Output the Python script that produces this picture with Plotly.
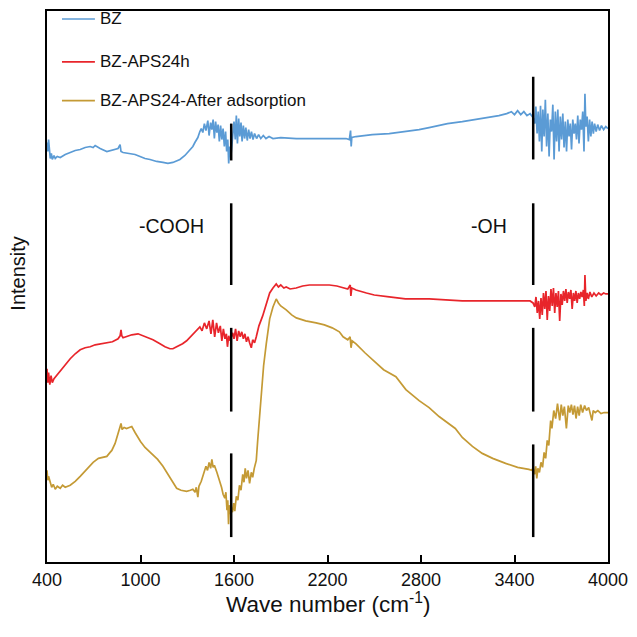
import plotly.graph_objects as go

# ---- data (wavenumber cm^-1, intensity a.u.) ----
bz_x = [400, 405, 410, 421, 428, 434, 445, 453, 466, 485, 517, 549, 581, 613, 645, 677, 696, 709, 741, 784,
        805, 837, 856, 869, 875, 888, 933, 965, 997, 1029, 1061, 1104, 1144, 1176, 1208, 1253, 1285, 1317, 1336, 1349,
        1368, 1381, 1390, 1400, 1410, 1420, 1432, 1440, 1450, 1458, 1466, 1474, 1482, 1490, 1498, 1506, 1514, 1522, 1530, 1538,
        1546, 1553, 1560, 1566, 1573, 1580, 1590, 1600, 1608, 1615, 1622, 1630, 1637, 1645, 1652, 1660, 1668, 1676, 1685, 1694,
        1703, 1712, 1722, 1732, 1745, 1758, 1772, 1788, 1805, 1825, 1850, 1900, 2000, 2100, 2200, 2276, 2319, 2340, 2348, 2352,
        2356, 2383, 2487, 2596, 2700, 2788, 2852, 2916, 2970, 3065, 3150, 3236, 3300, 3350, 3380, 3400, 3420, 3440, 3460, 3480,
        3500, 3519, 3530, 3537, 3545, 3552, 3560, 3567, 3575, 3582, 3590, 3598, 3606, 3614, 3622, 3630, 3638, 3646, 3654, 3662,
        3670, 3678, 3686, 3694, 3702, 3710, 3718, 3726, 3734, 3742, 3750, 3758, 3766, 3774, 3782, 3790, 3798, 3806, 3814, 3822,
        3830, 3838, 3846, 3852, 3858, 3866, 3874, 3882, 3890, 3898, 3906, 3914, 3924, 3934, 3946, 3958, 3972, 3986, 4000]
bz_y = [421, 412, 424, 405, 410, 404, 408, 405, 407, 406, 409, 411, 413, 414, 416, 417, 416, 418, 415, 412,
        413, 414, 415, 419, 412, 411, 410, 409, 407, 405, 404, 402, 401, 400, 401, 404, 408, 413, 417, 421,
        426, 432, 435, 431, 440, 433, 443, 428, 441, 434, 444, 425, 442, 431, 439, 422, 438, 424, 435, 417,
        432, 412, 424, 400, 417, 407, 422, 442, 424, 448, 420, 445, 427, 441, 422, 438, 425, 436, 423, 434,
        425, 432, 424, 430, 425, 429, 425, 428, 425, 427, 425, 426, 425, 425, 425, 425, 425, 424, 433, 417,
        426, 427, 429, 430, 432, 434, 436, 438, 440, 442, 444, 446, 448, 450, 452, 449, 453, 449, 452, 448,
        450, 446, 440, 457, 430, 452, 422, 458, 412, 454, 427, 464, 417, 450, 407, 444, 432, 459, 404, 452,
        422, 454, 412, 447, 424, 450, 416, 442, 412, 444, 427, 440, 414, 444, 430, 440, 424, 448, 420, 444,
        434, 452, 412, 470, 437, 447, 422, 444, 427, 442, 430, 440, 432, 439, 433, 438, 434, 437, 435]

red_x = [400, 405, 410, 418, 426, 434, 445, 466, 485, 517, 549, 581, 613, 645, 677, 709, 741, 784, 820, 856,
         869, 875, 880, 888, 920, 944, 984, 1029, 1080, 1125, 1157, 1189, 1208, 1232, 1270, 1296, 1330, 1360, 1381, 1395,
         1410, 1425, 1440, 1452, 1464, 1476, 1488, 1500, 1512, 1522, 1532, 1542, 1551, 1558, 1566, 1575, 1582, 1592, 1600, 1610,
         1620, 1630, 1640, 1650, 1660, 1670, 1680, 1690, 1700, 1711, 1720, 1732, 1743, 1760, 1784, 1807, 1829, 1850, 1871, 1885,
         1900, 1920, 1935, 1960, 1999, 2040, 2084, 2127, 2180, 2212, 2260, 2300, 2330, 2346, 2350, 2356, 2383, 2450, 2500, 2596,
         2700, 2852, 2950, 3065, 3200, 3350, 3450, 3500, 3519, 3530, 3538, 3546, 3554, 3562, 3570, 3578, 3586, 3594, 3602, 3610,
         3618, 3626, 3634, 3642, 3650, 3658, 3666, 3674, 3682, 3690, 3698, 3706, 3714, 3722, 3730, 3738, 3746, 3754, 3762, 3770,
         3778, 3786, 3794, 3802, 3810, 3818, 3826, 3834, 3842, 3848, 3852, 3858, 3866, 3874, 3884, 3896, 3910, 3924, 3940, 3956,
         3972, 3986, 4000]
red_y = [194, 180, 190, 178, 187, 180, 184, 188, 192, 198, 204, 209, 213, 215, 216, 218, 219, 220, 221, 224,
         227, 233, 227, 225, 227, 228, 229, 226, 223, 219, 216, 214, 214, 216, 219, 222, 228, 233, 236, 232,
         240, 234, 242, 229, 243, 226, 240, 230, 237, 222, 234, 224, 229, 216, 227, 222, 225, 230, 224, 234,
         222, 232, 226, 231, 224, 229, 221, 226, 220, 215, 223, 220, 226, 237, 247, 260, 270, 275, 279, 276,
         278, 275, 276, 274, 275, 277, 278, 278, 278, 278, 277, 275, 274, 278, 267, 275, 273, 270, 268, 266,
         264, 264, 263, 262, 262, 262, 262, 262, 260, 256, 266, 250, 262, 244, 265, 248, 270, 254, 272, 243,
         267, 252, 274, 257, 275, 250, 270, 256, 272, 242, 269, 258, 272, 262, 274, 260, 271, 264, 273, 254,
         270, 262, 272, 260, 270, 264, 271, 266, 273, 257, 288, 262, 270, 264, 271, 266, 270, 267, 270, 268,
         270, 269, 269]

gold_x = [400, 405, 410, 421, 430, 440, 453, 466, 485, 500, 517, 549, 581, 613, 632, 665, 696, 730, 760, 784,
          805, 816, 837, 856, 869, 875, 882, 895, 910, 944, 965, 984, 1000, 1029, 1061, 1080, 1110, 1144, 1176, 1208,
          1232, 1260, 1296, 1320, 1336, 1350, 1358, 1368, 1375, 1390, 1400, 1410, 1420, 1430, 1440, 1450, 1458, 1466, 1474, 1490,
          1500, 1509, 1520, 1530, 1541, 1548, 1555, 1560, 1565, 1570, 1576, 1582, 1590, 1598, 1605, 1615, 1625, 1635, 1645, 1656,
          1664, 1672, 1680, 1690, 1700, 1711, 1720, 1730, 1743, 1752, 1765, 1776, 1790, 1807, 1829, 1850, 1871, 1885, 1900, 1935,
          1970, 2000, 2020, 2060, 2127, 2180, 2230, 2276, 2300, 2330, 2345, 2351, 2358, 2383, 2440, 2500, 2560, 2639, 2703, 2788,
          2852, 2916, 2959, 3020, 3065, 3130, 3193, 3260, 3343, 3420, 3492, 3510, 3519, 3528, 3536, 3543, 3550, 3560, 3570, 3580,
          3590, 3600, 3610, 3620, 3632, 3640, 3652, 3664, 3676, 3690, 3700, 3710, 3720, 3733, 3745, 3755, 3765, 3775, 3785, 3795,
          3805, 3815, 3825, 3837, 3850, 3862, 3876, 3897, 3905, 3918, 3935, 3955, 3975, 4000]
gold_y = [92, 82, 86, 78, 75, 78, 73, 76, 74, 77, 75, 77, 81, 86, 89, 95, 100, 104, 105, 106,
          110, 112, 119, 129, 137, 139, 133, 135, 134, 136, 130, 125, 121, 115, 110, 107, 103, 96, 88, 80,
          74, 72, 71, 72, 73, 70, 75, 65, 76, 81, 86, 90, 96, 92, 100, 94, 103, 95, 97, 90,
          85, 82, 75, 68, 64, 70, 52, 62, 38, 57, 48, 55, 50, 59, 51, 66, 62, 77, 72, 88,
          80, 94, 84, 92, 79, 90, 85, 94, 102, 122, 147, 172, 197, 219, 244, 256, 264, 260, 257, 253,
          248, 245, 244, 242, 240, 238, 235, 231, 226, 223, 226, 215, 222, 219, 210, 201, 193, 186, 173, 162,
          155, 146, 141, 134, 125, 116, 109, 104, 99, 95, 93, 92, 94, 88, 96, 84, 94, 90, 100, 95,
          110, 104, 122, 117, 142, 134, 152, 144, 159, 142, 158, 147, 156, 134, 157, 150, 158, 148, 157, 144,
          156, 147, 158, 150, 157, 152, 155, 142, 152, 150, 152, 149, 150, 150]

# vertical marker lines: position and segment ranges (intensity)
mark_x = [1582, 3520]
left_segments = [(403, 440), (278, 360), (151, 235), (25, 109)]
right_segments = [(404, 487), (278, 360), (151, 235), (25, 118)]

labels = ["-COOH", "-OH"]
label_x = [1202, 3236]
label_y = [337, 337]

tick_vals = [400, 1000, 1600, 2200, 2800, 3400, 4000]

series_names = ["BZ", "BZ-APS24h", "BZ-APS24-After adsorption"]
series_colors = ["#5B9BD5", "#E8252B", "#C49A35"]
legend_rows = [0.9855, 0.9078, 0.8373]   # paper y of legend rows

FONT = "Liberation Sans, Arial"
fig = go.Figure()
for name, xs, ys, col in zip(series_names, [bz_x, red_x, gold_x], [bz_y, red_y, gold_y], series_colors):
    fig.add_trace(go.Scatter(x=xs, y=ys, mode="lines", name=name,
                             line=dict(color=col, width=1.7), showlegend=False))

for mx, segs in zip(mark_x, [left_segments, right_segments]):
    for y0, y1 in segs:
        fig.add_trace(go.Scatter(x=[mx, mx], y=[y0, y1], mode="lines",
                                 line=dict(color="black", width=2.5),
                                 showlegend=False, hoverinfo="skip"))

for t, lx, ly in zip(labels, label_x, label_y):
    fig.add_annotation(x=lx, y=ly, text=t, showarrow=False,
                       font=dict(size=19.5, color="#111", family=FONT))

# legend drawn inside the plot (line sample + label)
for name, col, ry in zip(series_names, series_colors, legend_rows):
    fig.add_shape(type="line", xref="paper", yref="paper", x0=0.0267, x1=0.0854, y0=ry, y1=ry,
                  line=dict(color=col, width=1.7))
    fig.add_annotation(xref="paper", yref="paper", x=0.0907, y=ry, text=name, showarrow=False,
                       xanchor="left", yanchor="middle", font=dict(size=17, color="#111", family=FONT))

# axis titles
fig.add_annotation(xref="paper", yref="paper", x=-0.052, y=0.523, text="Intensity",
                   textangle=-90, showarrow=False, xanchor="center", yanchor="middle",
                   font=dict(size=20, color="#111", family=FONT))
fig.add_annotation(xref="paper", yref="paper", x=0.5, y=-0.0745, text="Wave number (cm<sup>-1</sup>)",
                   showarrow=False, xanchor="center", yanchor="middle",
                   font=dict(size=22.5, color="#111", family=FONT))

fig.update_layout(
    width=637, height=637,
    margin=dict(l=47, r=28, t=9, b=75),
    paper_bgcolor="white", plot_bgcolor="white",
    showlegend=False,
    font=dict(family=FONT, color="#111"),
    xaxis=dict(range=[400, 4000], tickvals=tick_vals, ticks="inside", ticklen=7, tickwidth=2,
               tickcolor="black", showline=True, linecolor="black", linewidth=2, mirror=True,
               showgrid=False, zeroline=False, tickfont=dict(size=18, color="#111")),
    yaxis=dict(range=[0, 553], showticklabels=False, ticks="", showline=True, linecolor="black",
               linewidth=2, mirror=True, showgrid=False, zeroline=False),
)

fig.write_html("out.html", config={"displayModeBar": False},
               post_script="document.body.style.margin='0px';document.body.style.overflow='hidden';")
